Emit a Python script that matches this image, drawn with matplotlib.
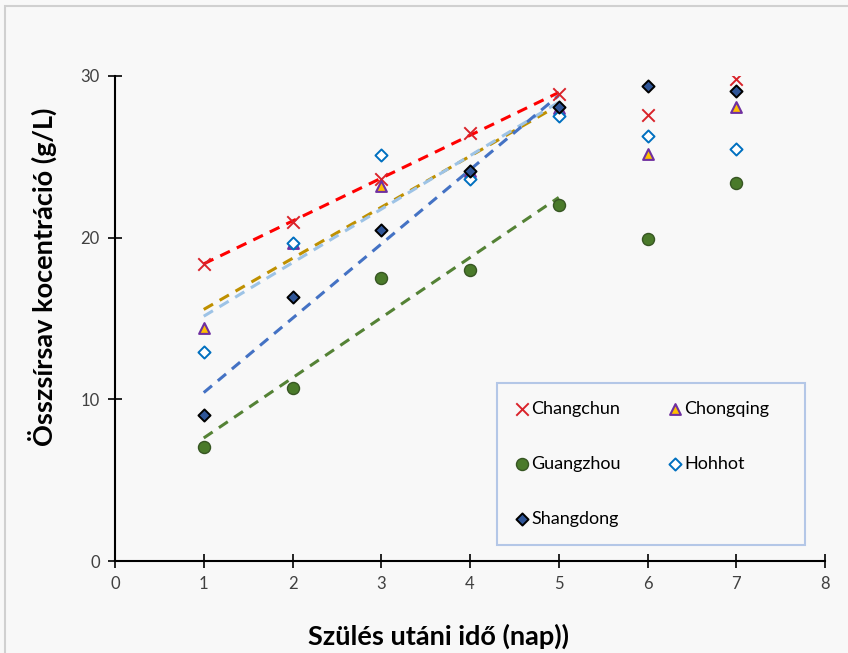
import matplotlib.pyplot as plt
import matplotlib.patches as mpatches
import numpy as np

plt.rcParams['font.family'] = ['Lato', 'DejaVu Sans']

days = [1, 2, 3, 4, 5, 6, 7]
changchun = [18.4, 21.0, 23.6, 26.5, 28.9, 27.6, 29.8]
chongqing = [14.4, 19.7, 23.2, 24.1, 28.0, 25.2, 28.1]
guangzhou = [7.05, 10.7, 17.5, 18.0, 22.0, 19.9, 23.4]
hohhot = [12.9, 19.7, 25.1, 23.6, 27.5, 26.3, 25.5]
shangdong = [9.03, 16.3, 20.5, 24.1, 28.1, 29.4, 29.1]

fig = plt.figure(figsize=(8.48, 6.53), dpi=100, facecolor='#f8f8f8')
fig.patches.append(mpatches.Rectangle((5/848, -0.1), 1.2, 1.1 - 6/653, transform=fig.transFigure,
                                      fill=False, edgecolor='#d0d0d0', lw=1.5))
ax = fig.add_axes([115/848, 92/653, 710/848, 485/653])
ax.set_facecolor('#f8f8f8')

series = [
    ('Changchun', changchun, dict(marker='x', color='#d9232a', s=80, linewidths=1.4), '#ff0000'),
    ('Chongqing', chongqing, dict(marker='^', facecolor='#ffc000', edgecolor='#7030a0', s=60, linewidths=1.5), '#bf9000'),
    ('Guangzhou', guangzhou, dict(marker='o', facecolor='#4a7a2a', edgecolor='#375623', s=75, linewidths=1.0), '#548235'),
    ('Hohhot', hohhot, dict(marker='D', facecolor='white', edgecolor='#0070c0', s=38, linewidths=1.4), '#9dc3e6'),
    ('Shangdong', shangdong, dict(marker='D', facecolor='#2f5597', edgecolor='black', s=38, linewidths=1.4), '#4472c4'),
]

handles = {}
x = np.array(days)
for name, vals, style, tcol in series:
    y = np.array(vals)
    # linear trend through the first five days
    k, b = np.polyfit(x[:5], y[:5], 1)
    xt = np.array([1, 5])
    ax.plot(xt, k * xt + b, color=tcol, ls=(0, (3.5, 2.5)), lw=2.2, zorder=2)
    handles[name] = ax.scatter(x, y, zorder=3, label=name, **style)

ax.set_xlim(0, 8)
ax.set_ylim(0, 30)
ax.set_xticks(range(0, 9))
ax.set_yticks([0, 10, 20, 30])
ax.tick_params(direction='inout', length=10, width=1.2, labelsize=12, labelcolor='#404040', pad=6)
for s in ['top', 'right']:
    ax.spines[s].set_visible(False)
for s in ['left', 'bottom']:
    ax.spines[s].set_linewidth(1.5)

ax.set_xlabel('Szülés utáni idő (nap))', fontsize=19.5, fontweight='bold')
ax.set_ylabel('Összsírsav kocentráció (g/L)', fontsize=19.5, fontweight='bold')
ax.xaxis.set_label_coords(0.4556, -0.13)
ax.yaxis.set_label_coords(-0.082, 0.585)

# legend box drawn separately (Excel pads it wider than the entries)
ax.add_patch(mpatches.Rectangle((497/848, 1 - 545/653), 308/848, 162/653, transform=fig.transFigure,
                                facecolor='#f8f8f8', edgecolor='#b4c7e7', lw=1.5, zorder=4, clip_on=False))
order = ['Changchun', 'Guangzhou', 'Shangdong', 'Chongqing', 'Hohhot']
leg = ax.legend([handles[n] for n in order], order, ncol=2, loc='upper left',
                bbox_to_anchor=(497/848, 1 - 383/653), bbox_transform=fig.transFigure,
                borderaxespad=0, fontsize=13, frameon=False, labelspacing=2.15,
                handletextpad=0.1, columnspacing=2.6, borderpad=1.0, handlelength=0.8)
leg.set_zorder(5)

fig.savefig('out.png', dpi=100, facecolor=fig.get_facecolor())
